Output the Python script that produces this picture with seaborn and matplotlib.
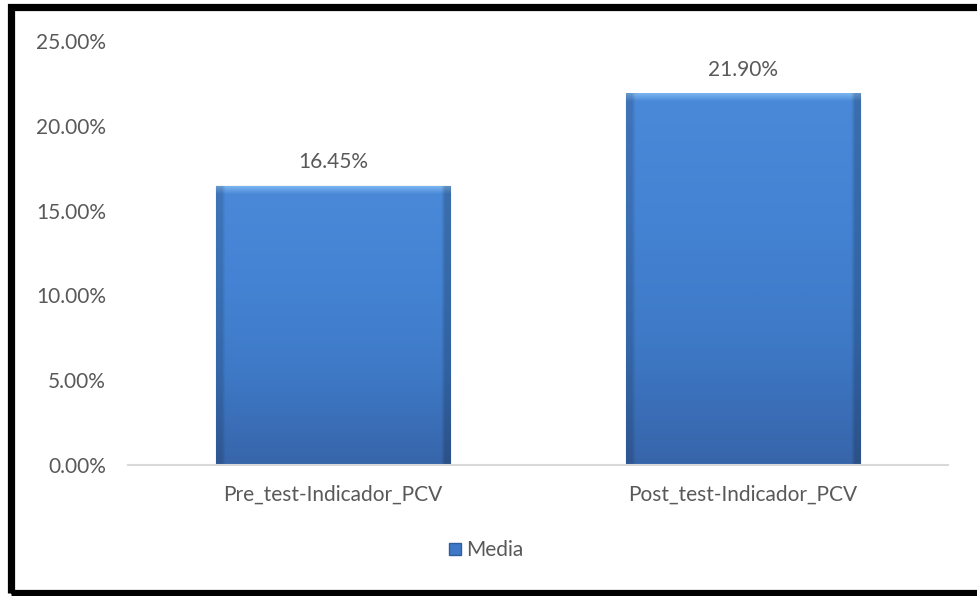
import matplotlib
matplotlib.use("Agg")
import matplotlib.pyplot as plt
import seaborn as sns
import numpy as np
import pandas as pd
from matplotlib.colors import LinearSegmentedColormap
from matplotlib.patches import Rectangle
from matplotlib.lines import Line2D

categories = ["Pre_test-Indicador_PCV", "Post_test-Indicador_PCV"]
values = [16.45, 21.90]
series_name = "Media"
y_ticks = [0, 5, 10, 15, 20, 25]

df = pd.DataFrame({"cat": categories, "val": values})

sns.set_theme(style="white")
plt.rcParams["font.family"] = ["Lato", "DejaVu Sans"]
text_color = "#595959"
fs = 15

fig = plt.figure(figsize=(9.77, 5.96), dpi=100)
ax = fig.add_axes([128/977, 1-465/596, (948-128)/977, (465-41)/596])

sns.barplot(data=df, x="cat", y="val", ax=ax, color="#4080d0", width=0.573,
            saturation=1, edgecolor="#2f5e9e", linewidth=0.8, zorder=2)

ax.set_xlim(-0.5, 1.5)
ax.set_ylim(0, 25)
ax.set_yticks(y_ticks)
ax.set_yticklabels([f"{t:.2f}%" for t in y_ticks], color=text_color, fontsize=fs)
ax.tick_params(axis="y", length=0, pad=16)
ax.tick_params(axis="x", length=0, pad=14, labelsize=fs, labelcolor=text_color)
ax.set_xlabel("")
ax.set_ylabel("")
for s in ["top", "right", "left"]:
    ax.spines[s].set_visible(False)
ax.spines["bottom"].set_color("#d9d9d9")
ax.spines["bottom"].set_linewidth(1.5)

# gradient fill on bars (darker bottom, bevel highlight at top)
cmap = LinearSegmentedColormap.from_list("g", ["#3765aa", "#3e79c6", "#4483d3", "#4a89d8"])
hcmap = LinearSegmentedColormap.from_list("h", ["#4a89d8", "#7ab4f0"])
for p, v in zip(ax.patches, values):
    x0 = p.get_x(); w = p.get_width(); h = p.get_height()
    n = 400
    frac = np.linspace(0, 1, n)
    bevel = 0.45 / h
    rgb = cmap(np.clip(frac / (1 - bevel), 0, 1))
    top = frac > 1 - bevel
    rgb[top] = hcmap((frac[top] - (1 - bevel)) / bevel)
    img = rgb.reshape(n, 1, 4)
    cols = 60
    img = np.repeat(img, cols, axis=1).copy()
    edge = 2
    img[:, :edge, :3] *= 0.85
    img[:, -edge:, :3] *= 0.8
    ax.imshow(img, extent=[x0, x0 + w, 0, h], origin="lower", aspect="auto",
              zorder=2.5, clip_path=p, clip_on=True, interpolation="bilinear")
    ax.annotate(f"{v:.2f}%", (x0 + w/2, h), xytext=(0, 10), textcoords="offset points",
                ha="center", va="bottom", fontsize=fs, color=text_color)
ax.set_xlim(-0.5, 1.5)
ax.set_ylim(0, 25)

# legend
handle = Line2D([], [], marker="s", linestyle="none", markersize=9,
                markerfacecolor="#3f78c6", markeredgecolor="#2f5e9e")
leg = fig.legend([handle], [series_name], loc="center", bbox_to_anchor=(485/977, 1-550/596),
                 frameon=False, fontsize=fs, handletextpad=0.1, handlelength=0.8)
for t in leg.get_texts():
    t.set_color(text_color)

# black frame (left, top, bottom)
fig.add_artist(Rectangle((11/977, 3/596), 1.2, 586/596, transform=fig.transFigure,
                         fill=False, edgecolor="black", linewidth=5.2, clip_on=False))

fig.savefig("out.png", dpi=100, facecolor="white")
